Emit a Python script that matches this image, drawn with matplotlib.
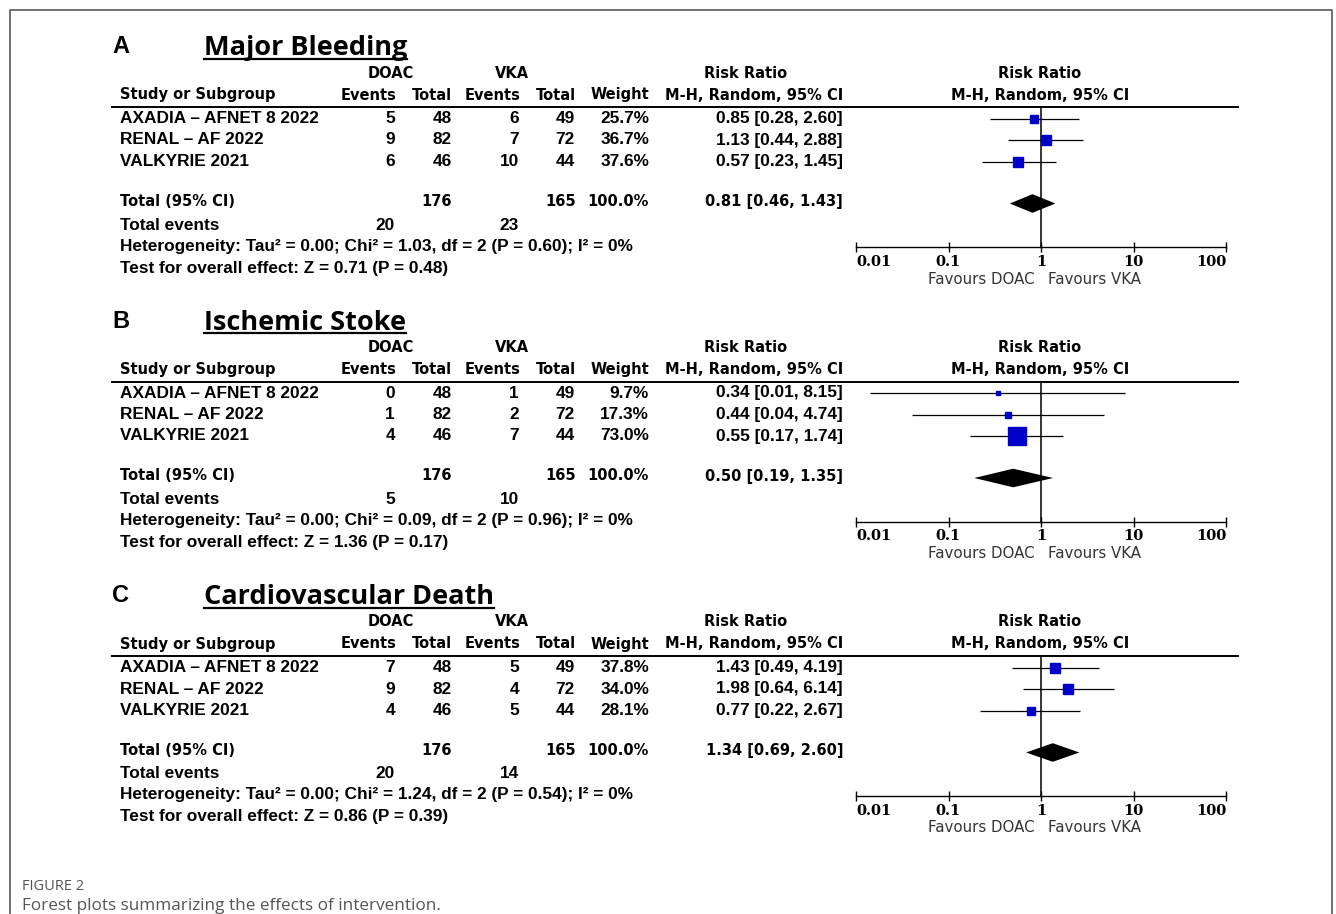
import matplotlib

matplotlib.use("Agg")
import matplotlib.pyplot as plt
import numpy as np
from matplotlib.ticker import NullLocator

W, H = 1336, 914

# ---- data -------------------------------------------------------------
studies = ["AXADIA – AFNET 8 2022", "RENAL – AF 2022", "VALKYRIE 2021"]
doac_total = [48, 82, 46]
vka_total = [49, 72, 44]

panel_letters = ["A", "B", "C"]
panel_titles = ["Major Bleeding", "Ischemic Stoke", "Cardiovascular Death"]

doac_events = [[5, 9, 6], [0, 1, 4], [7, 9, 4]]
vka_events = [[6, 7, 10], [1, 2, 7], [5, 4, 5]]
weights = [[25.7, 36.7, 37.6], [9.7, 17.3, 73.0], [37.8, 34.0, 28.1]]
total_weight = [100.0, 100.0, 100.0]
rr = [[0.85, 1.13, 0.57], [0.34, 0.44, 0.55], [1.43, 1.98, 0.77]]
ci_low = [[0.28, 0.44, 0.23], [0.014, 0.04, 0.17], [0.49, 0.64, 0.22]]
ci_high = [[2.60, 2.88, 1.45], [8.15, 4.74, 1.74], [4.19, 6.14, 2.67]]

pooled_rr = [0.81, 0.50, 1.34]
pooled_low = [0.46, 0.19, 0.69]
pooled_high = [1.43, 1.35, 2.60]

tau2 = [0.00, 0.00, 0.00]
chi2 = [1.03, 0.09, 1.24]
het_df = [2, 2, 2]
het_p = [0.60, 0.96, 0.54]
i2 = [0, 0, 0]
z_val = [0.71, 1.36, 0.86]
z_p = [0.48, 0.17, 0.39]

axis_ticks = [0.01, 0.1, 1, 10, 100]
axis_labels = ["0.01", "0.1", "1", "10", "100"]

# ---- layout (pixels) -------------------------------------------------
BASES = [0, 274.5, 549]
ROW_Y = [118.5, 140, 161.5]
HEAD_FONT = dict(family="DejaVu Sans", fontweight="bold", fontsize=10.5)
ROW_FONT = dict(family="Liberation Sans", fontweight="bold", fontsize=12.4)
BLUE = "#0000c8"

fig = plt.figure(figsize=(W / 100, H / 100), dpi=100)
bg = fig.add_axes([0, 0, 1, 1])
bg.set_xlim(0, W)
bg.set_ylim(H, 0)
bg.axis("off")

# frame
bg.plot([10, 10, 1332, 1332], [H + 5, 9.5, 9.5, H + 5], color="#666666", lw=1.3)

titles = []
for p in range(3):
    b = BASES[p]

    bg.text(112, b + 53, panel_letters[p], fontsize=17, fontweight="bold",
            family="Liberation Sans", va="baseline", ha="left")
    t = bg.text(204, b + 55, panel_titles[p], fontsize=19.5, fontweight="bold",
                family="Open Sans", va="baseline", ha="left")
    titles.append((t, b))

    # group headers
    bg.text(391, b + 73, "DOAC", ha="center", va="center", **HEAD_FONT)
    bg.text(512, b + 73, "VKA", ha="center", va="center", **HEAD_FONT)
    bg.text(746, b + 73, "Risk Ratio", ha="center", va="center", **HEAD_FONT)
    bg.text(1040, b + 73, "Risk Ratio", ha="center", va="center", **HEAD_FONT)

    bg.text(120, b + 95, "Study or Subgroup", ha="left", va="center", **HEAD_FONT)
    for x, lab in [(396, "Events"), (452, "Total"), (520, "Events"),
                   (576, "Total"), (649, "Weight"), (843, "M‑H, Random, 95% CI")]:
        bg.text(x, b + 95, lab, ha="right", va="center", **HEAD_FONT)
    bg.text(1040, b + 95, "M‑H, Random, 95% CI", ha="center", va="center", **HEAD_FONT)

    bg.plot([112, 1238], [b + 107, b + 107], color="black", lw=1.4)

    # study rows
    for i, name in enumerate(studies):
        y = b + ROW_Y[i]
        bg.text(120, y, name, ha="left", va="center", **ROW_FONT)
        bg.text(395, y, f"{doac_events[p][i]}", ha="right", va="center", **ROW_FONT)
        bg.text(452, y, f"{doac_total[i]}", ha="right", va="center", **ROW_FONT)
        bg.text(519, y, f"{vka_events[p][i]}", ha="right", va="center", **ROW_FONT)
        bg.text(575, y, f"{vka_total[i]}", ha="right", va="center", **ROW_FONT)
        bg.text(649, y, f"{weights[p][i]:.1f}%", ha="right", va="center", **ROW_FONT)
        bg.text(843, y, f"{rr[p][i]:.2f} [{ci_low[p][i]:.2f}, {ci_high[p][i]:.2f}]",
                ha="right", va="center", **ROW_FONT)

    # totals
    y = b + 201.5
    bg.text(120, y, "Total (95% CI)", ha="left", va="center", **HEAD_FONT)
    bg.text(452, y, f"{sum(doac_total)}", ha="right", va="center", **HEAD_FONT)
    bg.text(576, y, f"{sum(vka_total)}", ha="right", va="center", **HEAD_FONT)
    bg.text(649, y, f"{total_weight[p]:.1f}%", ha="right", va="center", **HEAD_FONT)
    bg.text(843, y, f"{pooled_rr[p]:.2f} [{pooled_low[p]:.2f}, {pooled_high[p]:.2f}]",
            ha="right", va="center", **HEAD_FONT)

    y = b + 225
    bg.text(120, y, "Total events", ha="left", va="center", **ROW_FONT)
    bg.text(395, y, f"{sum(doac_events[p])}", ha="right", va="center", **ROW_FONT)
    bg.text(519, y, f"{sum(vka_events[p])}", ha="right", va="center", **ROW_FONT)

    bg.text(120, b + 246,
            f"Heterogeneity: Tau² = {tau2[p]:.2f}; Chi² = {chi2[p]:.2f}, df = {het_df[p]} "
            f"(P = {het_p[p]:.2f}); I² = {i2[p]}%",
            ha="left", va="center", **ROW_FONT)
    bg.text(120, b + 268,
            f"Test for overall effect: Z = {z_val[p]:.2f} (P = {z_p[p]:.2f})",
            ha="left", va="center", **ROW_FONT)

    # forest plot
    fa = fig.add_axes([856 / W, 1 - (247 + b) / H, 370 / W, 140 / H])
    fa.patch.set_alpha(0)
    fa.set_xscale("log")
    fa.set_xlim(0.01, 100)
    fa.set_ylim(247, 107)
    for s in ["top", "right", "left"]:
        fa.spines[s].set_visible(False)
    fa.spines["bottom"].set_linewidth(1.0)
    fa.set_yticks([])
    fa.set_xticks(axis_ticks)
    fa.set_xticklabels(axis_labels)
    fa.xaxis.set_minor_locator(NullLocator())
    fa.tick_params(axis="x", direction="inout", length=7, width=1, pad=2,
                   labelsize=10.5)
    labs = fa.get_xticklabels()
    for lab in labs:
        lab.set_fontfamily("DejaVu Serif")
        lab.set_fontweight("bold")
    labs[0].set_ha("left")
    labs[-1].set_ha("right")

    fa.axvline(1, color="black", lw=1.1)
    for i in range(3):
        fa.hlines(ROW_Y[i], ci_low[p][i], ci_high[p][i], color="black", lw=0.9)
        side_px = 0.72 * weights[p][i] ** 0.75
        fa.plot(rr[p][i], ROW_Y[i], marker="s", ms=side_px * 0.72,
                color=BLUE, mec=BLUE, ls="none")
    dy = 203.5
    fa.fill([pooled_low[p], pooled_rr[p], pooled_high[p], pooled_rr[p]],
            [dy, dy - 9.3, dy, dy + 9.3], color="black", lw=0)

    fa.annotate("Favours DOAC", xy=(1, 0), xycoords=("data", "axes fraction"),
                xytext=(-6, -32), textcoords="offset pixels", ha="right",
                va="center", fontsize=10.8, color="#333333")
    fa.annotate("Favours VKA", xy=(1, 0), xycoords=("data", "axes fraction"),
                xytext=(7, -32), textcoords="offset pixels", ha="left",
                va="center", fontsize=10.8, color="#333333")

# underline titles
fig.canvas.draw()
for t, b in titles:
    ext = t.get_window_extent()
    bg.plot([ext.x0, ext.x1], [b + 58.5, b + 58.5], color="black", lw=1.6)

bg.text(22, 886, "FIGURE 2", ha="left", va="center", fontsize=10.5,
        family="Open Sans", color="#555555")
bg.text(22, 906, "Forest plots summarizing the effects of intervention.",
        ha="left", va="center", fontsize=12.3, family="Open Sans", color="#555555")

fig.savefig("out.png", dpi=100, facecolor="white")
